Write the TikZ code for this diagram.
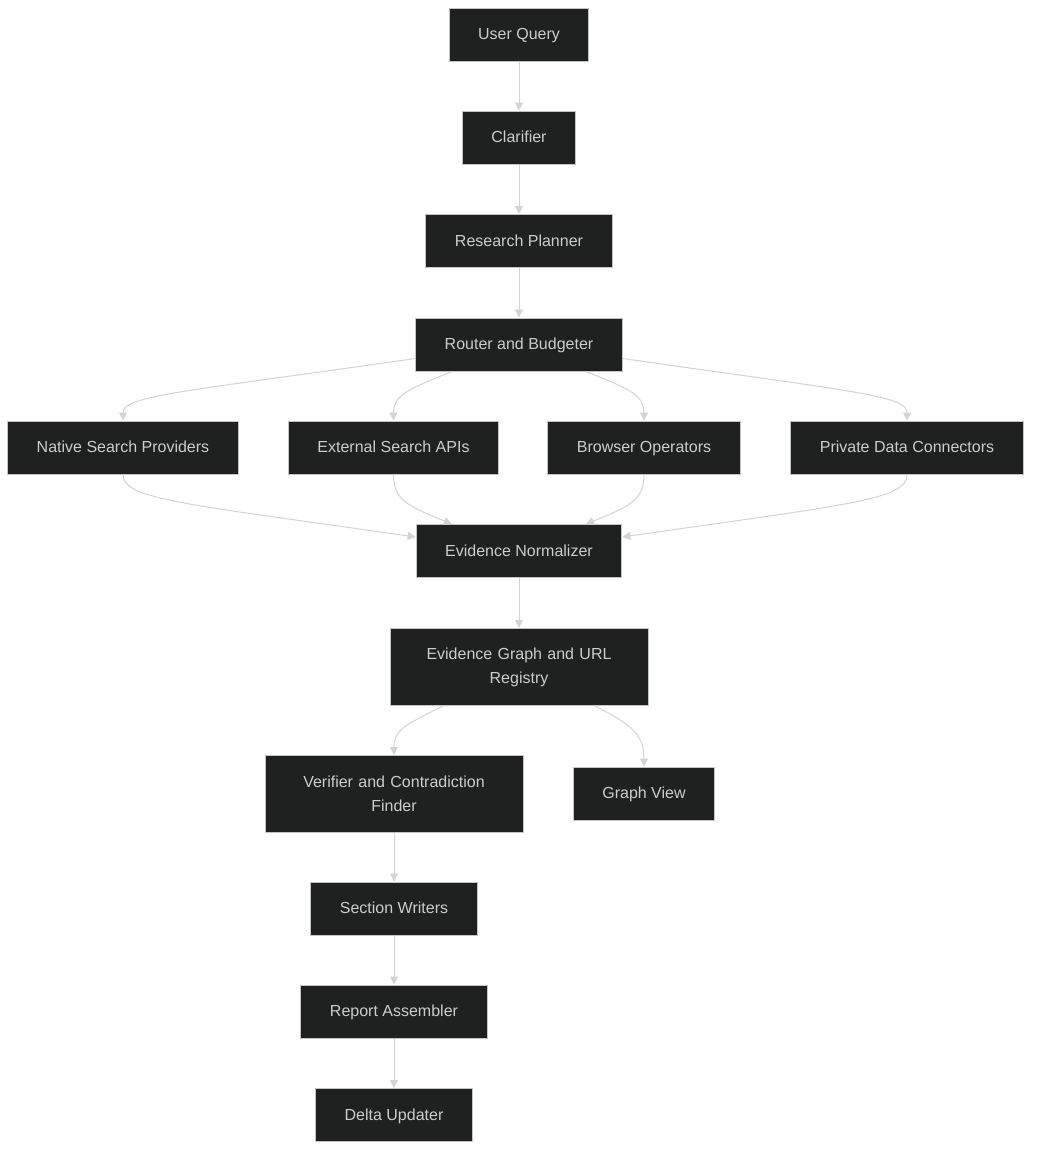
\documentclass[tikz,border=0pt]{standalone}
\usepackage{fontspec}
\setmainfont{Liberation Sans}
\usetikzlibrary{arrows.meta}
\definecolor{boxfill}{HTML}{1F2020}
\definecolor{boxline}{HTML}{C4C4C4}
\definecolor{boxtext}{HTML}{CCCCCC}
\definecolor{flowline}{HTML}{D3D3D3}
\tikzset{
	basestage/.style={draw=boxline, line width=0.75pt, fill=boxfill, text=boxtext, font=\fontsize{12}{18}\selectfont, inner xsep=21.75pt, inner ysep=0pt},
	stage/.style={basestage, text height=10pt, text depth=1.8pt, minimum height=39.75pt},
	widestage/.style={basestage, text width=150pt, align=center, minimum height=57.75pt},
	flow/.style={draw=flowline, line width=0.75pt, -{Triangle[length=6pt,width=6pt]}}
}
\begin{document}
\begin{tikzpicture}[x=0.75pt, y=-0.75pt]
			%%%%% START %%%%%
			
			\useasboundingbox (0, 0) rectangle (1039, 1158);
			
			\node[stage] (query) at (519, 34.5) {User Query};
			\node[stage] (clarifier) at (519, 137.5) {Clarifier};
			\node[stage] (planner) at (519, 241) {Research Planner};
			\node[stage] (router) at (519, 344.5) {Router and Budgeter};
			
			\node[stage] (native) at (123, 447.5) {Native Search Providers};
			\node[stage] (external) at (393.5, 447.5) {External Search APIs};
			\node[stage] (browser) at (644, 447.5) {Browser Operators};
			\node[stage] (private) at (907, 447.5) {Private Data Connectors};
			
			\node[stage] (normalizer) at (519, 551) {Evidence Normalizer};
			\node[widestage] (evgraph) at (519, 667) {Evidence Graph and URL\\Registry};
			
			\node[widestage] (verifier) at (394, 794) {Verifier and Contradiction\\Finder};
			\node[stage] (graphview) at (644, 793.5) {Graph View};
			
			\node[stage] (writers) at (394, 908.5) {Section Writers};
			\node[stage] (assembler) at (394, 1011.5) {Report Assembler};
			\node[stage] (delta) at (394, 1115) {Delta Updater};
			
			\draw[flow] (query) -- (clarifier);
			\draw[flow] (clarifier) -- (planner);
			\draw[flow] (planner) -- (router);
			
			\draw[flow] ([yshift=-10.5pt]router.west) .. controls +(-230, 33) and +(0, -25) .. (native.north);
			\draw[flow] ([xshift=-50.25pt]router.south) .. controls +(-45, 18) and +(0, -25) .. (external.north);
			\draw[flow] ([xshift=50.25pt]router.south) .. controls +(45, 18) and +(0, -25) .. (browser.north);
			\draw[flow] ([yshift=-10.5pt]router.east) .. controls +(230, 33) and +(0, -25) .. (private.north);
			
			\draw[flow] (native.south) .. controls +(0, 25) and +(-230, -33) .. ([yshift=10.5pt]normalizer.west);
			\draw[flow] (external.south) .. controls +(0, 25) and +(-45, -18) .. ([xshift=-50.25pt]normalizer.north);
			\draw[flow] (browser.south) .. controls +(0, 25) and +(45, -18) .. ([xshift=50.25pt]normalizer.north);
			\draw[flow] (private.south) .. controls +(0, 25) and +(230, -33) .. ([yshift=10.5pt]normalizer.east);
			
			\draw[flow] (normalizer) -- (evgraph);
			\draw[flow] ([xshift=-57pt]evgraph.south) .. controls +(-40, 20) and +(0, -25) .. (verifier.north);
			\draw[flow] ([xshift=57pt]evgraph.south) .. controls +(40, 20) and +(0, -30) .. (graphview.north);
			
			\draw[flow] (verifier) -- (writers);
			\draw[flow] (writers) -- (assembler);
			\draw[flow] (assembler) -- (delta);
			
			%%%%% END %%%%%
		\end{tikzpicture}
\end{document}
